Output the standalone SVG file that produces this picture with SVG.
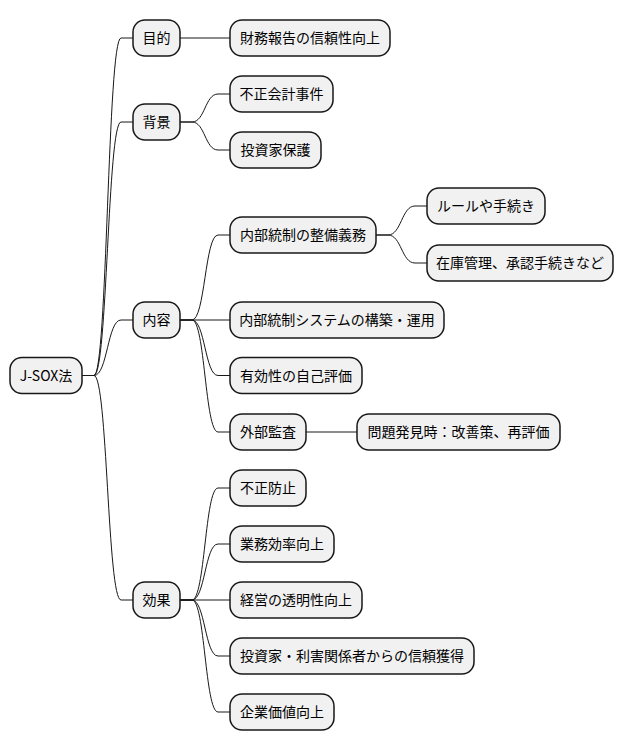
<svg xmlns="http://www.w3.org/2000/svg" width="625" height="752" viewBox="0 0 625 752">
<style>
.n rect{fill:#F1F1F1;stroke:#181818;stroke-width:1.5}
.n text{font-family:"Noto Sans CJK JP","Noto Sans",sans-serif;font-size:14px;fill:#000;text-anchor:middle}
#links path{fill:none;stroke:#181818;stroke-width:1}
</style>
<rect width="625" height="752" fill="#FFFFFF"/>
<g id="links">
<path d="M82,375.5 L94,375.5 C107.5,375.5 107.5,38 121,38 L133,38"/>
<path d="M82,375.5 L94,375.5 C107.5,375.5 107.5,122 121,122 L133,122"/>
<path d="M82,375.5 L94,375.5 C107.5,375.5 107.5,320 121,320 L133,320"/>
<path d="M82,375.5 L94,375.5 C107.5,375.5 107.5,600 121,600 L133,600"/>
<path d="M180,38 L230,38"/>
<path d="M180,122 L192,122 C205,122 205,94 218,94 L230,94"/>
<path d="M180,122 L192,122 C205,122 205,150 218,150 L230,150"/>
<path d="M180,320 L192,320 C205,320 205,235 218,235 L230,235"/>
<path d="M180,320 L230,320"/>
<path d="M180,320 L192,320 C205,320 205,375.5 218,375.5 L230,375.5"/>
<path d="M180,320 L192,320 C205,320 205,432 218,432 L230,432"/>
<path d="M376,235 L388,235 C401.5,235 401.5,206 415,206 L427,206"/>
<path d="M376,235 L388,235 C401.5,235 401.5,263 415,263 L427,263"/>
<path d="M306,432 L357,432"/>
<path d="M180,600 L192,600 C205,600 205,488 218,488 L230,488"/>
<path d="M180,600 L192,600 C205,600 205,544 218,544 L230,544"/>
<path d="M180,600 L230,600"/>
<path d="M180,600 L192,600 C205,600 205,656 218,656 L230,656"/>
<path d="M180,600 L192,600 C205,600 205,712 218,712 L230,712"/>
</g>
<g id="root" class="n"><rect x="10" y="357.5" width="72" height="36" rx="12"/><text x="46" y="380.5">J-SOX法</text></g>
<g id="mokuteki" class="n"><rect x="133" y="20" width="47" height="36" rx="12"/><text x="156.5" y="43">目的</text></g>
<g id="zaimu" class="n"><rect x="230" y="20" width="160" height="36" rx="12"/><text x="310" y="43">財務報告の信頼性向上</text></g>
<g id="haikei" class="n"><rect x="133" y="104" width="47" height="36" rx="12"/><text x="156.5" y="127">背景</text></g>
<g id="fusei" class="n"><rect x="230" y="76" width="103" height="36" rx="12"/><text x="281.5" y="99">不正会計事件</text></g>
<g id="toshika" class="n"><rect x="230" y="132" width="91" height="36" rx="12"/><text x="275.5" y="155">投資家保護</text></g>
<g id="naiyou" class="n"><rect x="133" y="302" width="47" height="36" rx="12"/><text x="156.5" y="325">内容</text></g>
<g id="seibi" class="n"><rect x="230" y="217" width="146" height="36" rx="12"/><text x="303" y="240">内部統制の整備義務</text></g>
<g id="rule" class="n"><rect x="427" y="188" width="118" height="36" rx="12"/><text x="486" y="211">ルールや手続き</text></g>
<g id="zaiko" class="n"><rect x="427" y="245" width="186" height="36" rx="12"/><text x="520" y="268">在庫管理、承認手続きなど</text></g>
<g id="system" class="n"><rect x="230" y="302" width="214" height="36" rx="12"/><text x="337" y="325">内部統制システムの構築・運用</text></g>
<g id="yukousei" class="n"><rect x="230" y="357.5" width="132" height="36" rx="12"/><text x="296" y="380.5">有効性の自己評価</text></g>
<g id="gaibu" class="n"><rect x="230" y="414" width="76" height="36" rx="12"/><text x="268" y="437">外部監査</text></g>
<g id="mondai" class="n"><rect x="357" y="414" width="203" height="36" rx="12"/><text x="458.5" y="437">問題発見時：改善策、再評価</text></g>
<g id="kouka" class="n"><rect x="133" y="582" width="47" height="36" rx="12"/><text x="156.5" y="605">効果</text></g>
<g id="boushi" class="n"><rect x="230" y="470" width="76" height="36" rx="12"/><text x="268" y="493">不正防止</text></g>
<g id="gyoumu" class="n"><rect x="230" y="526" width="104" height="36" rx="12"/><text x="282" y="549">業務効率向上</text></g>
<g id="keiei" class="n"><rect x="230" y="582" width="132" height="36" rx="12"/><text x="296" y="605">経営の透明性向上</text></g>
<g id="shinrai" class="n"><rect x="230" y="638" width="244" height="36" rx="12"/><text x="352" y="661">投資家・利害関係者からの信頼獲得</text></g>
<g id="kigyou" class="n"><rect x="230" y="694" width="104" height="36" rx="12"/><text x="282" y="717">企業価値向上</text></g>
</svg>
